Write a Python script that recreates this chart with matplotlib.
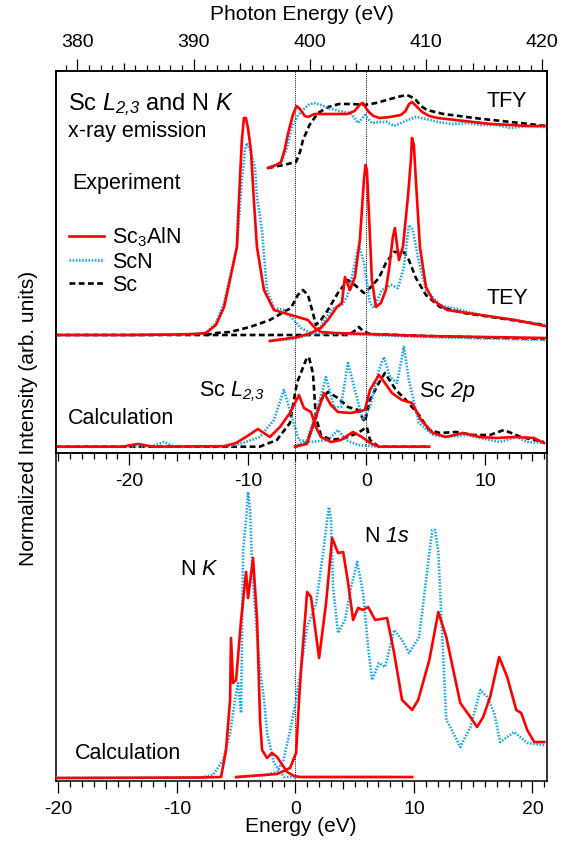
import numpy as np
import matplotlib
matplotlib.use("Agg")
import matplotlib.pyplot as plt
from matplotlib.lines import Line2D
from matplotlib.ticker import MultipleLocator

plt.rcParams['font.family'] = ['Liberation Sans', 'DejaVu Sans']
plt.rcParams['mathtext.fontset'] = 'custom'
plt.rcParams['mathtext.rm'] = 'Liberation Sans'
plt.rcParams['mathtext.it'] = 'Liberation Sans:italic'
# italic digits: mathtext keeps digits upright in \mathit, so use \mathsf mapped to italic
plt.rcParams['mathtext.sf'] = 'Liberation Sans:italic'
plt.rcParams['axes.unicode_minus'] = False

# --- data: (energy in eV, intensity in arb. units) ---
# top panel, x = energy relative to Sc 2p edge (eV)
tfy_red = [(-8.3, 0), (-7.6, 0.3), (-7.2, 0.6), (-6.9, 1.8), (-6.6, 3.5), (-6.2, 5.3), (-5.9, 6.2),
           (-5.6, 5.9), (-5.2, 5.2), (-4.9, 5.1), (-4.4, 5.4), (-3.0, 5.4), (-1.6, 5.4), (-1.0, 5.7),
           (-0.5, 6.4), (-0.3, 6.5), (-0.1, 6.1), (0.2, 5.6), (0.6, 5.2), (1.1, 5.0), (2.0, 5.1),
           (2.9, 5.3), (3.3, 5.7), (3.6, 6.4), (3.85, 6.6), (4.2, 6.2), (4.7, 5.6), (5.3, 5.2),
           (6.0, 5.0), (7.5, 4.8), (9.0, 4.6), (10.5, 4.4), (12.2, 4.3), (13.5, 4.2), (15.1, 4.2)]
tfy_blue = [(-8.3, 0), (-7.2, 0.5), (-6.7, 2.0), (-6.28, 4.1), (-5.8, 5.2), (-5.35, 5.8), (-4.9, 6.3),
            (-4.43, 6.5), (-3.8, 6.3), (-3.25, 6.0), (-2.3, 5.7), (-1.39, 5.5), (-1.0, 5.0), (-0.72, 4.5),
            (-0.4, 4.9), (-0.13, 5.3), (0.15, 4.9), (0.46, 4.5), (1.1, 4.6), (1.73, 4.6), (2.32, 4.2),
            (2.91, 4.5), (3.5, 4.8), (4.17, 5.1), (5.0, 4.9), (6.03, 4.6), (7.2, 4.4), (8.47, 4.5),
            (9.7, 4.3), (11.0, 4.3), (12.18, 4.0), (13.5, 4.2), (15.13, 4.1)]
tfy_black = [(-8.3, 0), (-7.0, 0.3), (-5.94, 0.6), (-5.6, 1.6), (-5.35, 2.8), (-4.8, 4.3), (-4.09, 5.5),
             (-3.2, 6.1), (-2.32, 6.4), (-1.2, 6.4), (-0.13, 6.3), (0.8, 6.5), (1.73, 6.8), (2.6, 7.1),
             (3.41, 7.3), (3.8, 7.1), (4.17, 6.8), (4.6, 6.2), (5.1, 5.8), (6.5, 5.4), (7.8, 5.2),
             (9.06, 5.0), (10.6, 4.8), (12.18, 4.6), (13.7, 4.4), (15.13, 4.2)]

xes_red = [(-26.2, 0), (-20, 0), (-16, 0.05), (-14.5, 0.1), (-13.53, 0.2), (-12.69, 1.0), (-12.0, 2.8),
           (-11.51, 5.5), (-10.92, 8.8), (-10.75, 13.5), (-10.5, 19.5), (-10.33, 21.7), (-10.16, 21.7),
           (-9.99, 20.7), (-9.74, 18.5), (-9.49, 13.5), (-9.23, 8.8), (-8.64, 4.5), (-7.8, 2.5),
           (-6.96, 2.2), (-5.78, 1.8), (-4.93, 1.5), (-4.34, 0.7), (-3.84, 0.3), (-2.66, 0.2),
           (0.04, 0.1), (5, -0.1), (10, -0.2), (15.05, -0.3)]
xes_blue = [(-26.2, 0), (-20, 0), (-16, 0.05), (-14.5, 0.1), (-13.53, 0.2), (-12.69, 1.2), (-12.0, 3.2),
            (-11.51, 5.8), (-10.92, 8.8), (-10.5, 15.5), (-10.24, 18.5), (-10.08, 19.2), (-9.82, 18.5),
            (-9.4, 16.8), (-9.23, 13.8), (-8.81, 10.5), (-8.39, 4.5), (-7.8, 2.7), (-6.96, 2.5),
            (-6.11, 1.5), (-5.52, 0.7), (-4.68, 0.2), (0.04, 0.0), (5, -0.2), (10, -0.35), (15.05, -0.5)]
xes_black = [(-26.2, 0), (-14, 0), (-1.5, 0.0), (-0.9, 0.5), (-0.63, 0.8), (-0.3, 0.4), (0.3, 0.1),
             (5, -0.1), (10, -0.25), (15.05, -0.4)]

tey_red = [(-8.14, -0.05), (-5.78, 0.35), (-4.68, 0.75), (-3.84, 1.25), (-3.25, 2.05), (-2.49, 3.35),
           (-2.07, 3.75), (-1.81, 6.35), (-1.39, 5.05), (-0.97, 6.35), (-0.55, 10.05), (-0.21, 16.05),
           (-0.08, 17.55), (0.04, 17.05), (0.21, 12.75), (0.46, 6.05), (0.80, 3.35), (1.22, 3.75),
           (1.64, 5.05), (1.90, 7.05), (2.23, 10.35), (2.40, 11.25), (2.74, 8.05), (3.08, 9.35),
           (3.50, 14.35), (3.75, 18.05), (3.84, 20.25), (4.00, 19.55), (4.17, 16.05), (4.51, 9.35),
           (5.02, 5.35), (5.61, 4.05), (6.79, 3.05), (9.65, 2.55), (12.52, 2.05), (15.05, 1.45)]
tey_blue = [(-8.14, -0.05), (-6.11, 0.15), (-4.68, 0.65), (-3.84, 1.45), (-2.91, 3.15), (-2.07, 3.55),
            (-1.56, 4.55), (-0.97, 7.75), (-0.63, 9.55), (-0.21, 7.75), (0.30, 3.75), (0.63, 3.25),
            (1.31, 5.05), (2.07, 5.55), (2.66, 5.25), (3.16, 7.35), (3.58, 11.55), (3.92, 11.05),
            (4.34, 8.35), (5.02, 5.05), (6.20, 3.55), (9.65, 2.55), (15.05, 1.55)]
tey_black = [(-13.53, 0.55), (-12.69, 0.75), (-11.51, 0.85), (-9.82, 1.35), (-8.14, 2.05), (-6.37, 3.25),
             (-5.78, 4.55), (-5.35, 5.05), (-4.93, 4.55), (-4.51, 2.75), (-4.26, 1.55), (-3.84, 2.05),
             (-3.25, 3.05), (-2.40, 4.75), (-1.56, 6.05), (-0.97, 5.55), (-0.21, 4.75), (0.30, 5.25),
             (1.05, 6.25), (1.64, 7.75), (2.32, 8.85), (3.16, 8.85), (3.58, 8.05), (4.17, 6.25),
             (5.02, 4.55), (6.20, 3.35), (8.22, 2.75), (11.09, 2.25), (15.05, 1.55)]

calc_l_red = [(-26.2, 0), (-20.6, 0), (-19.27, 0.27), (-18.0, 0), (-12, 0.05), (-11.0, 0.37), (-10.16, 0.97),
              (-9.15, 1.77), (-8.14, 0.97), (-7.29, 1.97), (-6.45, 3.37), (-5.69, 5.17), (-5.27, 3.87),
              (-4.68, 3.47), (-4.26, 1.97), (-3.84, 0.97), (-2.99, 0.47), (-2.15, 0.67), (-1.14, 1.47),
              (-0.38, 0.97), (0.30, 0.37), (1.05, 0), (5.3, 0)]
calc_l_blue = [(-26.2, 0), (-18.2, 0), (-17.07, 0.47), (-16.2, 0), (-11.5, 0.05), (-10.41, 0.37),
               (-8.98, 0.97), (-7.80, 2.67), (-6.96, 5.67), (-6.28, 2.97), (-5.69, 0.67), (-4.68, 0.47),
               (-3.25, 0.67), (-2.40, 1.67), (-1.73, 0.67), (-0.72, 0.17), (1.05, 0), (5.3, 0)]
calc_l_black = [(-26.2, 0), (-9.0, 0), (-7.55, 0.67), (-6.45, 2.37), (-5.86, 6.37), (-5.10, 8.67),
                (-4.85, 8.97), (-4.51, 7.37), (-4.26, 2.97), (-3.84, 1.17), (-2.99, 0.67), (-1.81, 0.87),
                (-0.72, 1.37), (0.04, 1.97), (0.30, 0.67), (1.05, 0), (5.3, 0)]
calc_2p_red = [(-6.03, 0), (-5.02, 0.27), (-4.43, 2.37), (-3.58, 5.37), (-2.99, 4.17), (-2.40, 3.47),
               (-1.31, 3.37), (-0.13, 3.67), (0.30, 5.67), (1.05, 7.17), (1.56, 6.37), (2.15, 5.37),
               (2.99, 4.67), (3.84, 4.37), (4.60, 2.67), (5.61, 1.37), (6.70, 0.97), (8.14, 1.37),
               (9.57, 0.97), (11.0, 0.87), (12.44, 0.97), (14.12, 0.87), (14.97, 0.37)]
calc_2p_blue = [(-6.03, 0), (-5.02, 0.67), (-4.09, 3.97), (-3.41, 6.97), (-2.74, 3.97), (-2.15, 3.97),
                (-1.56, 8.37), (-0.97, 5.67), (-0.30, 2.67), (0.30, 3.97), (1.05, 7.67), (1.48, 8.97),
                (1.98, 6.97), (2.57, 6.37), (3.16, 9.97), (3.58, 6.67), (4.43, 2.37), (5.61, 1.17),
                (6.70, 0.97), (8.47, 1.17), (9.57, 0.87), (11.26, 0.47), (12.69, 0.97), (13.54, 0.47),
                (14.97, 0.37)]
calc_2p_black = [(-6.03, 0), (-5.02, 0.37), (-4.26, 2.97), (-3.84, 4.67), (-3.25, 5.47), (-2.40, 4.87),
                 (-1.56, 3.97), (-0.72, 3.67), (-0.13, 2.47), (0.30, 4.67), (1.05, 6.37), (1.56, 7.37),
                 (2.49, 5.67), (3.33, 4.67), (4.43, 3.17), (5.27, 1.67), (6.20, 1.37), (7.55, 1.47),
                 (8.98, 1.17), (10.41, 1.17), (11.59, 1.67), (13.03, 0.97), (14.97, 0.47)]

# bottom panel, x = energy (eV)
nk_red = [(-20.2, 0), (-8, 0.05), (-6.27, 0.1), (-5.85, 2.8), (-5.51, 7.8), (-5.43, 14.0), (-5.26, 9.5),
          (-5.00, 9.8), (-4.58, 15.8), (-4.16, 20.6), (-3.99, 18.0), (-3.57, 22.0), (-3.23, 15.8),
          (-2.98, 5.8), (-2.81, 2.8), (-2.39, 2.0), (-1.97, 2.5), (-1.54, 2.1), (-0.70, 0.6),
          (-0.11, 0.2), (0.4, 0.1), (9.85, 0.1)]
nk_blue = [(-20.2, 0), (-8.0, 0.05), (-6.95, 0.3), (-6.10, 1.8), (-5.51, 4.5), (-5.09, 7.8), (-4.84, 9.5),
           (-4.58, 6.5), (-4.41, 22.8), (-4.16, 25.8), (-3.99, 28.6), (-3.82, 26.8), (-3.65, 21.1),
           (-3.23, 14.1), (-2.98, 10.8), (-2.64, 7.8), (-2.39, 4.5), (-1.80, 1.5), (-0.95, 0.1), (8.17, 0.1)]
n1s_red = [(-5.0, 0.1), (-1.54, 0.4), (-0.45, 1.0), (0.06, 2.5), (0.31, 7.8), (0.48, 10.8), (0.99, 18.6),
           (1.32, 18.1), (2.0, 12.0), (2.59, 17.5), (3.10, 24.0), (3.60, 22.5), (4.03, 22.6), (4.45, 19.5),
           (4.87, 15.8), (5.29, 17.0), (5.71, 16.8), (6.14, 17.1), (6.73, 15.8), (7.74, 16.0), (8.33, 12.5),
           (9.0, 7.8), (9.85, 6.8), (10.36, 7.8), (11.30, 11.8), (12.06, 16.6), (12.73, 14.1), (13.91, 7.5),
           (14.76, 6.1), (15.33, 5.1), (15.84, 6.1), (16.43, 8.1), (17.19, 12.1), (17.87, 10.1),
           (18.63, 6.8), (19.05, 6.5), (19.56, 4.8), (20.15, 3.6), (20.99, 3.6)]
n1s_blue = [(-5.0, 0.05), (-2.5, 0.3), (-1.54, 0.6), (-1.0, 1.8), (-0.4, 5.0), (0.06, 7.8), (0.99, 15.1),
            (1.75, 17.5), (2.34, 22.5), (2.68, 25.8), (2.84, 27.1), (3.01, 25.8), (3.18, 19.1), (3.60, 14.5),
            (4.19, 15.8), (4.70, 19.1), (5.21, 21.6), (5.71, 18.5), (6.14, 13.1), (6.47, 9.8), (7.06, 11.5),
            (7.57, 11.1), (8.33, 14.8), (9.0, 13.8), (9.59, 12.5), (10.44, 14.1), (11.30, 22.5),
            (11.55, 24.8), (11.8, 24.8), (12.06, 22.5), (12.73, 5.8), (13.07, 5.1), (13.91, 3.1),
            (14.76, 5.1), (15.61, 8.8), (16.18, 8.1), (16.77, 6.5), (17.28, 3.6), (18.46, 4.6),
            (19.56, 3.5), (20.99, 3.3)]

# vertical offsets of the stacked spectra
off_tfy, off_xes, off_tey, off_calc = 27.87, 11.17, 10.62, 0.0
edge_lines_top = [-6.0, 0.0]
edge_line_bottom = 0.0

RED, BLUE = '#ff0000', '#1aa4ec'
st = {
    'red': dict(color=RED, lw=1.9, ls='-', zorder=4),
    'blue': dict(color=BLUE, lw=1.9, ls=(0, (0.6, 0.6)), zorder=3),
    'black': dict(color='black', lw=1.9, ls=(0, (2.2, 1.3)), zorder=2),
}
TICK_FS, LABEL_FS, TEXT_FS = 14, 15, 15.5


def curve(ax, pts, offset, kind):
    x, y = zip(*pts)
    ax.plot(x, np.asarray(y) + offset, **st[kind])


def set_ticks(axis, lo, hi):
    axis.set_major_locator(MultipleLocator(10))
    axis.set_minor_locator(MultipleLocator(1))
    locs = [l for l in axis.get_minorticklocs() if lo <= l <= hi]
    for loc, tick in zip(locs, axis.get_minor_ticks(len(locs))):
        if abs(loc / 5 - round(loc / 5)) < 1e-6:
            tick.tick1line.set_markersize(6)
            tick.tick2line.set_markersize(6)


def style_xaxis(ax, **kw):
    ax.tick_params(axis='x', which='both', direction='out', labelsize=TICK_FS, pad=6, width=0.9, **kw)
    ax.tick_params(axis='x', which='major', length=8.5)
    ax.tick_params(axis='x', which='minor', length=4)


fig = plt.figure(figsize=(5.7, 8.44), dpi=100)
ax1 = fig.add_axes([0.0977, 0.46292, 0.8614, 0.45296])
ax2 = fig.add_axes([0.0977, 0.07464, 0.8614, 0.38828])
ax2.patch.set_visible(False)

# ---- top panel ----
for pts, k in [(tfy_black, 'black'), (tfy_blue, 'blue'), (tfy_red, 'red')]:
    curve(ax1, pts, off_tfy, k)
for pts, k in [(xes_black, 'black'), (xes_blue, 'blue'), (xes_red, 'red')]:
    curve(ax1, pts, off_xes, k)
for pts, k in [(tey_black, 'black'), (tey_blue, 'blue'), (tey_red, 'red')]:
    curve(ax1, pts, off_tey, k)
for pts, k in [(calc_l_black, 'black'), (calc_l_blue, 'blue'), (calc_l_red, 'red'),
               (calc_2p_black, 'black'), (calc_2p_blue, 'blue'), (calc_2p_red, 'red')]:
    curve(ax1, pts, off_calc, k)
for xv in edge_lines_top:
    ax1.axvline(xv, color='black', lw=0.7, ls=(0, (1, 1.2)), zorder=1)

ax1.set_xlim(-26.2, 15.2)
ax1.set_ylim(-0.66, 37.57)
ax1.tick_params(axis='y', left=False, labelleft=False)
style_xaxis(ax1, bottom=True, top=False)
set_ticks(ax1.xaxis, -26.2, 15.2)

ax1t = ax1.twiny()
ax1t.set_xlim(378.14, 420.38)
style_xaxis(ax1t, top=True, bottom=False)
set_ticks(ax1t.xaxis, 378.14, 420.38)

for a in (ax1, ax1t, ax2):
    for s in a.spines.values():
        s.set_linewidth(1.1)

legend_handles = [Line2D([], [], **st['red']), Line2D([], [], **st['blue']), Line2D([], [], **st['black'])]
ax1.legend(legend_handles, ['Sc$_3$AlN', 'ScN', 'Sc'], loc='upper left',
           bbox_to_anchor=(0.027, 0.595), frameon=False, fontsize=TEXT_FS, handlelength=1.65,
           handletextpad=0.37, labelspacing=0.1, borderpad=0, borderaxespad=0)

tx = dict(transform=ax1.transAxes, va='center', ha='left')
ax1.text(0.025, 0.911, r'Sc $\mathsf{L_{2{,}3}}$ and N $K$', fontsize=17, **tx)
ax1.text(0.025, 0.843, 'x-ray emission', fontsize=TEXT_FS, **tx)
ax1.text(0.878, 0.921, 'TFY', fontsize=TEXT_FS, **tx)
ax1.text(0.033, 0.707, 'Experiment', fontsize=TEXT_FS, **tx)
ax1.text(0.878, 0.406, 'TEY', fontsize=TEXT_FS, **tx)
ax1.text(0.025, 0.092, 'Calculation', fontsize=TEXT_FS, **tx)
ax1.text(0.292, 0.160, r'Sc $\mathsf{L_{2{,}3}}$', fontsize=TEXT_FS, **tx)
ax1.text(0.740, 0.160, r'Sc $\mathsf{2p}$', fontsize=TEXT_FS, **tx)

# ---- bottom panel ----
for pts, k in [(nk_blue, 'blue'), (nk_red, 'red'), (n1s_blue, 'blue'), (n1s_red, 'red')]:
    curve(ax2, pts, 0.0, k)
ax2.axvline(edge_line_bottom, color='black', lw=0.7, ls=(0, (1, 1.2)), zorder=1)
ax2.set_xlim(-20.22, 21.2)
ax2.set_ylim(-0.3, 32.47)
ax2.spines['top'].set_visible(False)
ax2.tick_params(axis='y', left=False, labelleft=False)
style_xaxis(ax2)
set_ticks(ax2.xaxis, -20.22, 21.2)

bx = dict(transform=ax2.transAxes, va='center', ha='left')
ax2.text(0.254, 0.644, r'N $K$', fontsize=TEXT_FS, **bx)
ax2.text(0.628, 0.745, r'N $\mathsf{1s}$', fontsize=TEXT_FS, **bx)
ax2.text(0.040, 0.085, 'Calculation', fontsize=TEXT_FS, **bx)

fig.text(302 / 570, 1 - 15 / 844, 'Photon Energy (eV)', ha='center', va='center', fontsize=LABEL_FS)
fig.text(301 / 570, 1 - 826 / 844, 'Energy (eV)', ha='center', va='center', fontsize=LABEL_FS)
fig.text(29 / 570, 1 - 418 / 844, 'Normalized Intensity (arb. units)', ha='center', va='center',
         rotation=90, fontsize=LABEL_FS)

fig.savefig('out.png', dpi=100)
